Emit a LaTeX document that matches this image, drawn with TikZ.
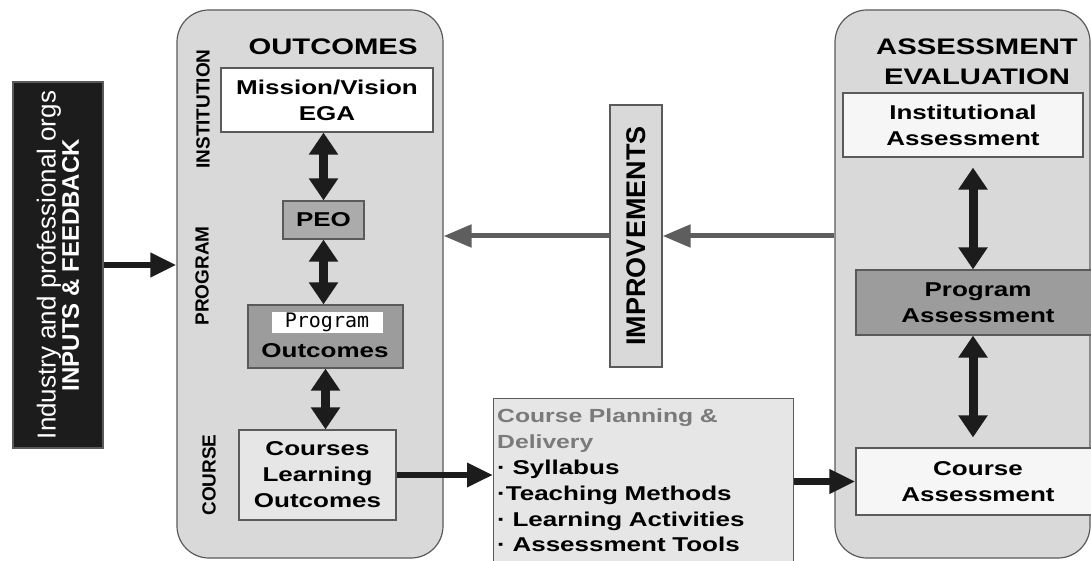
\documentclass[tikz,border=0pt]{standalone}
\usepackage{fontspec}
\usepackage{xcolor}
\usepackage{tikz}
\usetikzlibrary{arrows.meta}
\setmainfont{Liberation Sans}
\newfontfamily\widefont{Liberation Sans}[FakeStretch=1.3]
\newfontfamily\pixfont{DejaVu Sans Mono}

\definecolor{panelgray}{HTML}{D9D9D9}
\definecolor{peogray}{HTML}{ABABAB}
\definecolor{pogray}{HTML}{9C9C9C}
\definecolor{lightbox}{HTML}{E6E6E6}
\definecolor{palebox}{HTML}{F6F6F6}
\definecolor{linegray}{HTML}{5A5A5A}
\definecolor{arrowgray}{HTML}{5E5E5E}
\definecolor{plantitle}{HTML}{7A7A7A}
\definecolor{inkblack}{HTML}{1C1C1C}

\tikzset{
	panel/.style={draw=linegray, line width=1.2pt, fill=panelgray, rounded corners=32pt},
	unitbox/.style={draw=linegray, line width=1.2pt, inner sep=0pt},
	boxtext/.style={font=\widefont\bfseries\fontsize{20}{26}\selectfont, align=center},
	headtext/.style={font=\widefont\bfseries\fontsize{22.5}{30}\selectfont, align=center},
	sidelabel/.style={font=\bfseries\fontsize{19}{19}\selectfont, rotate=90},
	dblarrow/.style={{Triangle[width=28pt,length=22pt]}-{Triangle[width=28pt,length=22pt]}, line width=9pt, draw=inkblack},
	blkarrow/.style={-{Triangle[width=23pt,length=26pt]}, line width=6.5pt, draw=inkblack},
	grayarrow/.style={-{Triangle[width=22pt,length=28pt]}, line width=5pt, draw=arrowgray},
}

\begin{document}
\begin{tikzpicture}[x=1pt, y=-1pt]
		\useasboundingbox (0,0) rectangle (1091,561);
		\clip (0,0) rectangle (1091,561);

		\node[unitbox, fill=inkblack, minimum width=90pt, minimum height=366pt] (inputs) at (58,265) {};
		\node[rotate=90, text=white, align=center, inner sep=0pt] (inputstext) at (inputs) {\fontsize{26}{36}\selectfont Industry and professional orgs\\\fontsize{24}{36}\selectfont\bfseries INPUTS \& FEEDBACK};

		\node[panel, minimum width=266pt, minimum height=548pt] (outpanel) at (310,284) {};
		\node[headtext] (outtitle) at (333,47) {OUTCOMES};
		\node[sidelabel] (instlabel) at (203,109) {INSTITUTION};
		\node[sidelabel] (proglabel) at (202,276) {PROGRAM};
		\node[sidelabel] (courselabel) at (209,475) {COURSE};

		\node[unitbox, boxtext, fill=white, minimum width=212pt, minimum height=64pt] (mission) at (327,100) {Mission/Vision\\EGA};
		\node[unitbox, boxtext, fill=peogray, minimum width=81pt, minimum height=38pt] (peo) at (323.5,220) {PEO};
		\node[unitbox, fill=pogray, minimum width=155pt, minimum height=63pt] (po) at (325.5,336.5) {};
		\node[fill=white, inner sep=0pt, minimum width=111pt, minimum height=21pt] (poprog) at (327,322.5) {\pixfont\fontsize{20}{20}\selectfont Program};
		\node[boxtext, inner sep=0pt] (poword) at (325,351) {Outcomes};
		\node[unitbox, boxtext, fill=lightbox, minimum width=157pt, minimum height=90pt] (clo) at (317.5,475) {Courses\\Learning\\Outcomes};

		\draw[dblarrow] (peo.north |- mission.south) -- (peo.north);
		\draw[dblarrow] (peo.south) -- (peo.south |- po.north);
		\draw[dblarrow] (po.south) -- (po.south |- clo.north);

		\node[unitbox, fill=panelgray, minimum width=52pt, minimum height=262pt] (improve) at (636,236) {};
		\node[rotate=90, inner sep=0pt, font=\bfseries\fontsize{27}{27}\selectfont] (improvetext) at (improve) {IMPROVEMENTS};

		\node[unitbox, fill=lightbox, minimum width=300pt, minimum height=180pt, anchor=north west] (plan) at (493,398) {};
		\node[anchor=north west, text width=295pt, align=left, inner sep=0pt, font=\widefont\bfseries\fontsize{20}{25.8}\selectfont] (plantext) at ([xshift=4pt,yshift=-11pt]plan.north west) {\textcolor{plantitle}{\fontsize{19}{25.8}\selectfont Course Planning \&}\\\textcolor{plantitle}{\fontsize{19}{25.8}\selectfont Delivery}\\· Syllabus\\·Teaching Methods\\· Learning Activities\\· Assessment Tools};

		\node[panel, minimum width=255pt, minimum height=548pt] (asspanel) at (962.5,284) {};
		\node[headtext] (asstitle) at (977,62) {ASSESSMENT\\EVALUATION};
		\node[unitbox, boxtext, fill=palebox, minimum width=240pt, minimum height=64pt] (instass) at (963,125) {Institutional\\Assessment};
		\node[unitbox, boxtext, fill=pogray, minimum width=244pt, minimum height=65pt] (progass) at (978,302.5) {Program\\Assessment};
		\node[unitbox, boxtext, fill=palebox, minimum width=244pt, minimum height=67pt] (courseass) at (978,481.5) {Course\\Assessment};

		\draw[dblarrow, shorten <=10pt] ([xshift=-5pt]progass.north |- instass.south) -- ([xshift=-5pt]progass.north);
		\draw[dblarrow, shorten >=10pt] ([xshift=-5pt]progass.south) -- ([xshift=-5pt]progass.south |- courseass.north);

		\draw[blkarrow] (inputs.east) -- (inputs.east -| outpanel.west);
		\draw[blkarrow] (clo.east) -- (clo.east -| plan.west);
		\draw[blkarrow] (courseass.west -| plan.east) -- (courseass.west);
		\draw[grayarrow] (improve.west) -- (improve.west -| outpanel.east);
		\draw[grayarrow] (improve.east -| asspanel.west) -- (improve.east);
\end{tikzpicture}
\end{document}
